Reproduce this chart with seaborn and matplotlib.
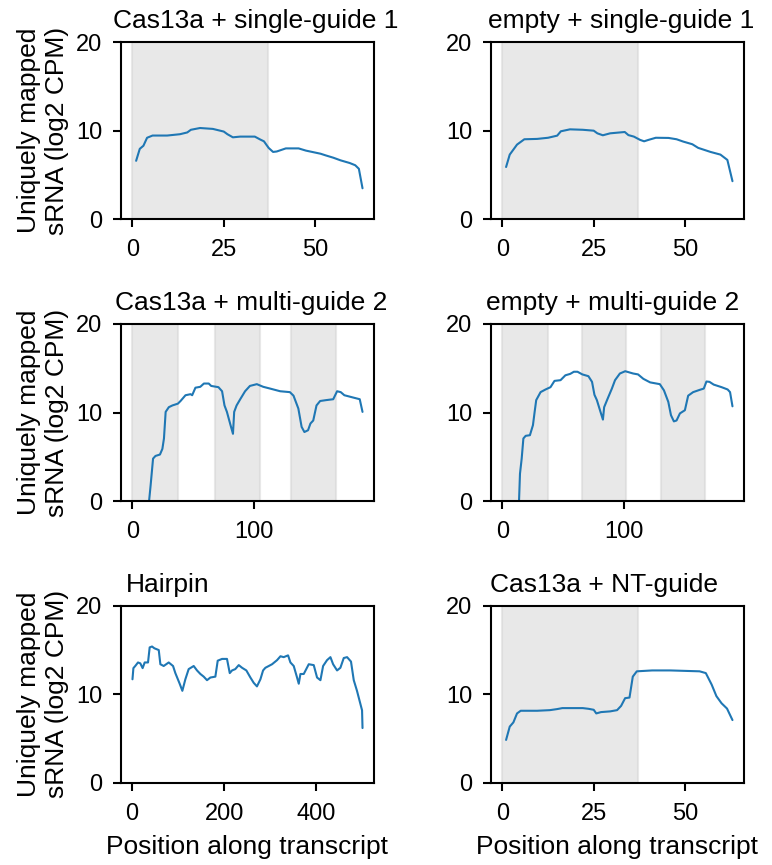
import matplotlib
matplotlib.use('Agg')
import matplotlib.pyplot as plt
import seaborn as sns
import pandas as pd

# (position, log2 CPM)
cas13a_single = [(1, 6.6), (2, 7.95), (3, 8.3), (4, 9.2), (5.5, 9.45), (9.5, 9.45), (13, 9.6),
                 (15, 9.8), (16, 10.1), (18.5, 10.3), (22, 10.2), (25, 9.9), (26, 9.6), (27.5, 9.25),
                 (29.5, 9.33), (33.5, 9.33), (35, 9.0), (36, 8.8), (37.3, 8.05), (38.5, 7.6),
                 (39.5, 7.65), (42, 8.0), (45.5, 8.0), (47.5, 7.75), (51.5, 7.4), (53, 7.2),
                 (55, 6.95), (57, 6.65), (59.5, 6.35), (61, 6.1), (62, 5.7), (63, 3.5)]
empty_single = [(1, 5.9), (2, 7.3), (4, 8.43), (6, 9.03), (9.5, 9.07), (12.5, 9.2), (15, 9.44),
                (16, 9.93), (18.5, 10.15), (22, 10.1), (25, 10.0), (26, 9.7), (27.5, 9.48),
                (29.5, 9.7), (33.5, 9.85), (34.5, 9.5), (36, 9.33), (37.7, 8.96), (38.8, 8.8),
                (40, 8.96), (42, 9.2), (45.5, 9.18), (47.7, 9.03), (49.5, 8.77), (52, 8.47),
                (53.6, 8.06), (57, 7.6), (59.7, 7.3), (61.6, 6.7), (63, 4.3)]
cas13a_multi = [(13, -2), (13.7, 0), (15, 1.8), (17, 4.8), (19, 5.1), (22.7, 5.26), (24.7, 5.9),
                (26, 7.07), (27.4, 10.07), (30, 10.6), (33, 10.8), (37.5, 11.0), (39.7, 11.3),
                (43.8, 11.95), (48, 12.07), (49.3, 11.95), (52, 12.8), (56, 12.9), (59, 13.27),
                (63, 13.27), (65, 13.0), (71, 12.86), (74, 12.4), (76, 10.8), (78, 10.07),
                (81, 8.57), (83, 7.6), (84, 10.07), (86, 10.8), (89, 11.5), (93, 12.4), (97, 13.0),
                (102.7, 13.2), (108, 12.9), (113.7, 12.7), (122, 12.4), (130, 12.3), (133, 11.9),
                (137, 10.45), (139.7, 8.38), (142, 7.8), (145, 8.0), (147, 8.76), (149.3, 9.1),
                (152, 10.8), (155, 11.3), (160, 11.4), (165.8, 11.5), (169, 12.4), (172, 12.3),
                (175, 11.95), (182, 11.7), (187.7, 11.5), (190, 10.07)]
empty_multi = [(13, -2), (13.7, 0), (14.5, 3.1), (15.9, 4.8), (17.3, 7.07), (19.2, 7.37),
               (22.7, 7.44), (25.2, 8.57), (26.6, 10.07), (27.9, 11.4), (31.5, 12.3), (35.6, 12.6),
               (39.7, 12.86), (43, 13.57), (48, 13.65), (52, 14.2), (56, 14.36), (59, 14.6),
               (62, 14.6), (66, 14.3), (71, 14.1), (74, 13.46), (76, 12.0), (78, 11.4),
               (81, 10.07), (83, 9.2), (84, 10.6), (87, 11.6), (90.4, 12.7), (93, 13.65),
               (97, 14.4), (101.4, 14.66), (108, 14.4), (112, 14.3), (116.4, 13.8), (122, 13.4),
               (130, 13.2), (133.4, 12.5), (137, 11.2), (139.2, 9.7), (141.6, 9.0), (143.8, 9.1),
               (146.6, 9.9), (150.7, 10.26), (153.4, 11.9), (157.5, 12.3), (163, 12.56),
               (166.3, 12.7), (168.5, 13.5), (171, 13.46), (174.5, 13.15), (181, 12.86),
               (186, 12.6), (188, 12.3), (190, 10.7)]
hairpin = [(1, 11.7), (3, 12.96), (7, 13.2), (13, 13.6), (18, 13.5), (23, 12.96), (27.5, 13.6),
           (34.7, 13.6), (38.3, 15.3), (43.4, 15.4), (48.5, 15.2), (58, 15.0), (61.5, 13.4),
           (68.7, 13.2), (79.6, 13.6), (89, 13.2), (94, 12.4), (103.4, 11.2), (109.2, 10.4),
           (115.7, 11.7), (122.9, 12.85), (133.8, 13.2), (141, 12.7), (148.3, 12.3), (155.5, 12.0),
           (162.7, 11.6), (170, 11.9), (180.8, 12.0), (185.9, 13.8), (195.3, 14.0), (206, 14.0),
           (212, 12.4), (217, 12.7), (224, 12.85), (231.5, 13.3), (238.7, 13.0), (248, 12.7),
           (256.8, 11.9), (264, 11.3), (271, 10.9), (278.5, 11.7), (284.3, 12.7), (289.3, 13.0),
           (296.6, 13.2), (303.8, 13.4), (314.6, 13.86), (322, 14.3), (329, 14.2), (338.5, 14.4),
           (343.6, 13.6), (350.8, 13.2), (358, 11.9), (361.7, 11.2), (365.3, 12.3), (372.5, 12.3),
           (383.4, 13.4), (394.2, 13.3), (401.4, 11.9), (408.7, 11.6), (414.5, 13.2), (423, 13.86),
           (430.4, 14.2), (436.2, 13.4), (444.8, 12.7), (452, 13.0), (459.3, 14.1), (466.5, 14.2),
           (475, 13.7), (481, 11.6), (488, 10.4), (495.5, 8.9), (499, 8.2), (500, 6.2)]
cas13a_nt = [(1, 4.86), (2, 6.36), (3, 6.84), (4, 7.85), (5, 8.15), (9.5, 8.15), (13, 8.22),
             (15, 8.34), (16.4, 8.45), (22, 8.45), (23.6, 8.37), (25, 8.26), (25.7, 7.85),
             (27, 8.0), (29.5, 8.08), (31.4, 8.22), (32.5, 8.7), (33.6, 9.57), (34.8, 9.64),
             (35.7, 12.0), (36.8, 12.6), (41, 12.7), (46, 12.7), (54, 12.6), (55.7, 12.4),
             (57.3, 11.1), (58.6, 9.8), (60, 9.0), (61.5, 8.4), (63, 7.1)]

titles = ['Cas13a + single-guide 1', 'empty + single-guide 1',
          'Cas13a + multi-guide 2', 'empty + multi-guide 2',
          'Hairpin', 'Cas13a + NT-guide']
traces = [cas13a_single, empty_single, cas13a_multi, empty_multi, hairpin, cas13a_nt]
# guide-targeted regions (shaded)
guide_spans = [[(0, 37)], [(0, 37)],
               [(0, 38), (68, 105), (131, 168)], [(0, 37.5), (66, 102), (131, 167)],
               [], [(0, 37)]]
xtick_sets = [[0, 25, 50], [0, 25, 50], [0, 100], [0, 100], [0, 200, 400], [0, 25, 50]]
title_x = [-0.032, -0.012, -0.024, -0.02, 0.02, -0.004]

sns.set_theme(style='ticks')
plt.rcParams['font.family'] = ['Liberation Sans', 'DejaVu Sans']
plt.rcParams.update({
    'text.color': 'black', 'axes.labelcolor': 'black',
    'xtick.color': 'black', 'ytick.color': 'black', 'axes.edgecolor': 'black',
    'axes.linewidth': 1.5,
    'xtick.major.width': 1.5, 'ytick.major.width': 1.5,
    'xtick.major.size': 5.5, 'ytick.major.size': 5.5,
    'xtick.major.pad': 9, 'ytick.major.pad': 8,
    'xtick.labelsize': 17, 'ytick.labelsize': 17,
})

fig, axes = plt.subplots(3, 2, figsize=(7.72, 8.65), dpi=100)
fig.subplots_adjust(left=0.1567, right=0.9637, top=0.9514, bottom=0.0948,
                    wspace=0.462, hspace=0.59)

for i, ax in enumerate(axes.flat):
    df = pd.DataFrame(traces[i], columns=['position', 'cpm'])
    for lo, hi in guide_spans[i]:
        ax.axvspan(lo, hi, color='lightgray', alpha=0.5, lw=1.5)
    sns.lineplot(data=df, x='position', y='cpm', ax=ax, color='#1f77b4', lw=1.5)
    ax.set_ylim(0, 20)
    ax.set_yticks([0, 10, 20])
    ax.set_xticks(xtick_sets[i])
    ax.set_title(titles[i], loc='left', x=title_x[i], fontsize=19, pad=10)
    if i % 2 == 0:
        ax.set_ylabel('Uniquely mapped\nsRNA (log2 CPM)', fontsize=19, labelpad=5)
    else:
        ax.set_ylabel('')
    if i >= 4:
        ax.set_xlabel('Position along transcript', fontsize=19, labelpad=7)
    else:
        ax.set_xlabel('')

fig.savefig('out.png', dpi=100)
